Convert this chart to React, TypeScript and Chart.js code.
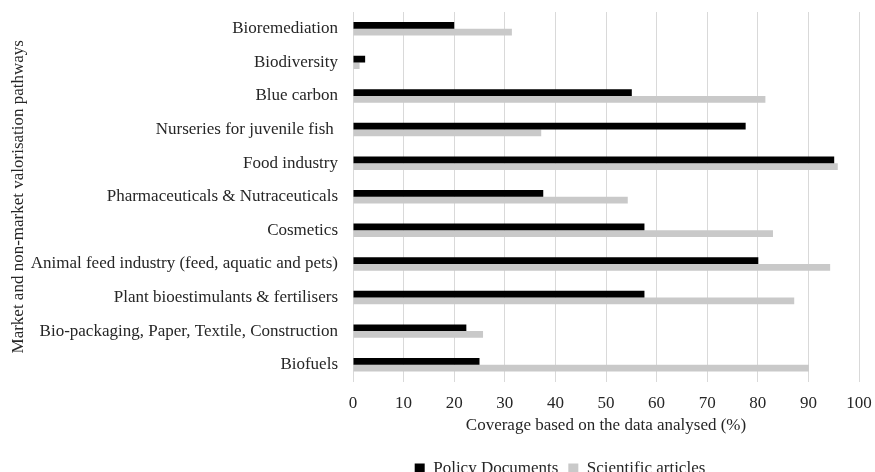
import React, { useEffect, useRef } from 'react';
import { Chart, registerables } from 'chart.js';

Chart.register(...registerables);

const categories = [
  'Bioremediation',
  'Biodiversity',
  'Blue carbon',
  'Nurseries for juvenile fish ',
  'Food industry',
  'Pharmaceuticals & Nutraceuticals',
  'Cosmetics',
  'Animal feed industry (feed, aquatic and pets)',
  'Plant bioestimulants & fertilisers',
  'Bio-packaging, Paper, Textile, Construction',
  'Biofuels',
];

const policyDocuments = [20.0, 2.4, 55.1, 77.6, 95.1, 37.6, 57.6, 80.1, 57.6, 22.4, 25.0];
const scientificArticles = [31.4, 1.3, 81.5, 37.2, 95.8, 54.3, 83.0, 94.3, 87.2, 25.7, 90.1];

const xMin = 0;
const xMax = 100;
const xStep = 10;

const FONT = '"Liberation Serif", "Times New Roman", serif';
const TEXT = '#262626';
const FS = 17;

const legendShift = {
  id: 'legendShift',
  afterLayout(chart: any) {
    const l = chart.legend;
    if (!l) return;
    const w = l.right - l.left;
    const c = 560;
    l.left = c - w / 2;
    l.right = c + w / 2;
  },
};

export default function App() {
  const ref = useRef<HTMLCanvasElement>(null);
  useEffect(() => {
    document.body.style.margin = '0';
    const ctx = ref.current!;
    const chart = new Chart(ctx, {
      type: 'bar',
      data: {
        labels: categories,
        datasets: [
          {
            label: 'Policy Documents',
            data: policyDocuments,
            backgroundColor: '#000000',
            borderWidth: 0,
            categoryPercentage: 0.4,
            barPercentage: 1.0,
          },
          {
            label: 'Scientific articles',
            data: scientificArticles,
            backgroundColor: '#c9c9c9',
            borderWidth: 0,
            categoryPercentage: 0.4,
            barPercentage: 1.0,
          },
        ],
      },
      options: {
        indexAxis: 'y',
        responsive: false,
        animation: false,
        layout: { padding: { top: 12, right: 16, left: 0, bottom: 0 } },
        plugins: {
          tooltip: { enabled: false },
          legend: {
            position: 'bottom',
            labels: {
              boxWidth: 10,
              boxHeight: 10,
              padding: 10,
              color: TEXT,
              font: { family: FONT, size: FS },
            },
          },
        },
        scales: {
          x: {
            min: xMin,
            max: xMax,
            ticks: {
              stepSize: xStep,
              padding: 0,
              color: TEXT,
              font: { family: FONT, size: FS },
            },
            grid: {
              color: '#d9d9d9',
              drawTicks: true,
              tickLength: 12,
              tickColor: 'rgba(0,0,0,0)',
              lineWidth: 1,
            },
            border: { display: false },
            title: {
              display: true,
              text: 'Coverage based on the data analysed (%)',
              color: TEXT,
              font: { family: FONT, size: FS },
              padding: { top: 0, bottom: 14.3 },
            },
            afterFit: (scale: any) => {
              scale.height = 68.5;
            },
          },
          y: {
            ticks: {
              padding: 0,
              color: TEXT,
              font: { family: FONT, size: FS },
            },
            grid: { display: false, drawTicks: true, tickLength: 15 },
            border: { display: false },
            title: {
              display: true,
              text: 'Market and non-market valorisation pathways',
              color: TEXT,
              font: { family: FONT, size: FS },
              padding: { top: 8, bottom: 0 },
            },
            afterFit: (scale: any) => {
              scale.width = 353;
            },
          },
        },
      },
      plugins: [legendShift],
    });
    return () => chart.destroy();
  }, []);
  return (
    <div style={{ width: 875, height: 472, overflow: 'hidden' }}>
      <canvas ref={ref} width={875} height={487} style={{ display: 'block' }} />
    </div>
  );
}
